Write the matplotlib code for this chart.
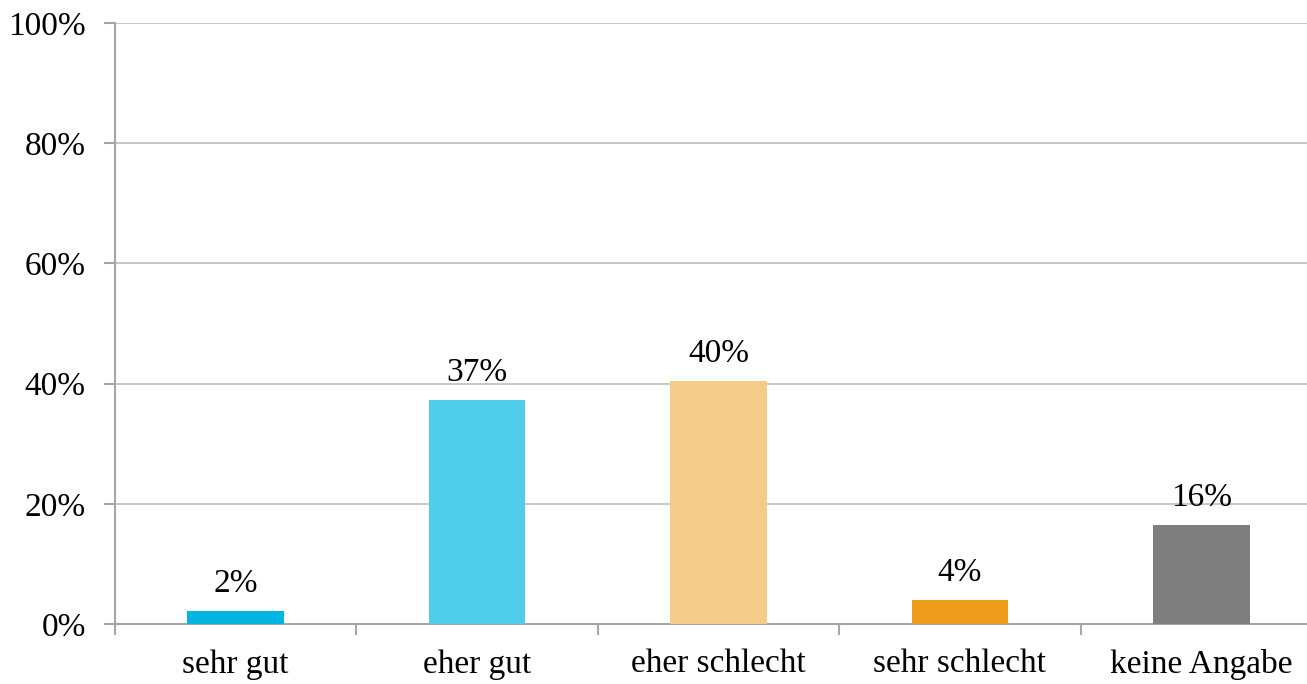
import matplotlib
matplotlib.use("Agg")
import matplotlib.pyplot as plt
from matplotlib.ticker import MultipleLocator, FuncFormatter

categories = ["sehr gut", "eher gut", "eher schlecht", "sehr schlecht", "keine Angabe"]
values = [2.2, 37.2, 40.5, 4.0, 16.4]
labels = ["2%", "37%", "40%", "4%", "16%"]
colors = ["#00B5E2", "#4FCDEB", "#F5CB89", "#EC9C1A", "#7F7F7F"]

plt.rcParams['font.family'] = ['Liberation Serif', 'DejaVu Serif']

W, H = 1307, 684
fig = plt.figure(figsize=(W / 100, H / 100), dpi=100)
left, right, top, bottom = 115, 1322, 23, 624
ax = fig.add_axes([left / W, 1 - bottom / H, (right - left) / W, (bottom - top) / H])

x = list(range(len(categories)))
ax.bar(x, values, width=0.4, color=colors, zorder=3)
for xi, v, lab in zip(x, values, labels):
    ax.text(xi, v + 2.0, lab, ha="center", va="bottom", fontsize=24, color="#000000", zorder=4)

ax.set_xlim(-0.5, 4.5)
ax.set_ylim(0, 100)
ax.yaxis.set_major_locator(MultipleLocator(20))
ax.yaxis.set_major_formatter(FuncFormatter(lambda v, p: f"{int(v)}%"))
ax.grid(axis="y", color="#BFBFBF", linewidth=1.2, zorder=0)
ax.set_axisbelow(True)

for s in ["top", "right"]:
    ax.spines[s].set_visible(False)
ax.spines["left"].set_color("#A6A6A6")
ax.spines["bottom"].set_color("#A6A6A6")
ax.spines["left"].set_linewidth(1.5)
ax.spines["bottom"].set_linewidth(1.5)

ax.set_xticks([i + 0.5 for i in range(-1, 5)])
ax.set_xticklabels([])
ax.set_xticks(x, minor=True)
ax.set_xticklabels(categories, minor=True, fontsize=24)
ax.tick_params(axis="x", which="major", length=8, width=1.5, color="#A6A6A6", direction="out")
ax.tick_params(axis="x", which="minor", length=0, pad=18)
ax.tick_params(axis="y", length=8, width=1.5, color="#A6A6A6", labelsize=24, pad=13)

fig.savefig("out.png", dpi=100)
